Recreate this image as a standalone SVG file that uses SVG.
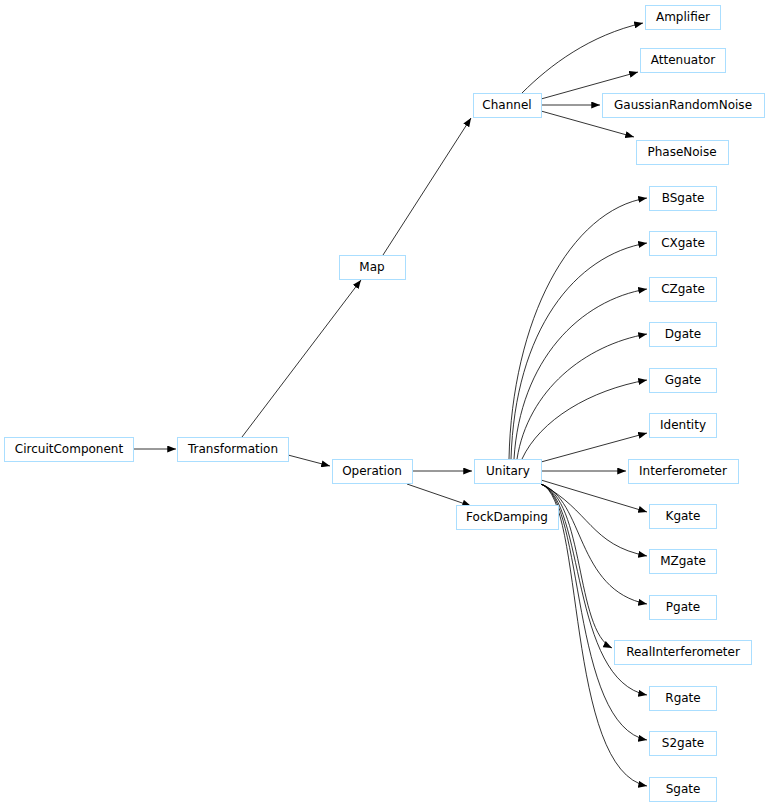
<svg xmlns="http://www.w3.org/2000/svg" width="768" height="807" viewBox="0 0 768 807">
<defs>
<style>
.n rect{fill:#fff;stroke:#aadeff;stroke-width:1}
.n text{font-family:"DejaVu Sans",sans-serif;font-size:12px;text-anchor:middle;fill:#000}
.e path{fill:none;stroke:#000;stroke-width:0.8;marker-end:url(#a)}
</style>
<marker id="a" viewBox="0 0 10 8" refX="10" refY="4" markerWidth="9" markerHeight="7" orient="auto" markerUnits="userSpaceOnUse"><path d="M0,0L10,4L0,8z" fill="#000"/></marker>
</defs>
<rect width="768" height="807" fill="#fff"/>
<g id="edges" class="e">
<path d="M133,449H176"/>
<path d="M242,437L361,280"/>
<path d="M288,455L330,466"/>
<path d="M383,255L471,118"/>
<path d="M412,471H472"/>
<path d="M407,484L471,506"/>
<path d="M522,93C550,65 590,35 643,23"/>
<path d="M541,99L638,72"/>
<path d="M541,105H600"/>
<path d="M541,111L634,137"/>
<path d="M509,459C512,320 570,210 647,198"/>
<path d="M511,459C515,330 575,255 647,243"/>
<path d="M514,459C520,360 580,300 647,289"/>
<path d="M517,459C528,390 585,345 647,334"/>
<path d="M522,459C540,420 590,390 647,380"/>
<path d="M541,462L647,433"/>
<path d="M541,471H626"/>
<path d="M541,480L647,512"/>
<path d="M541,484C590,510 590,545 647,556"/>
<path d="M541,484C585,500 575,590 647,604"/>
<path d="M541,484C585,500 575,630 612,648"/>
<path d="M541,484C585,500 570,680 647,695"/>
<path d="M541,484C585,500 570,725 647,740"/>
<path d="M541,484C585,500 565,770 647,786"/>
</g>
<g id="CircuitComponent" class="n"><rect x="4.5" y="437.5" width="129" height="24"/><text x="69" y="453">CircuitComponent</text></g>
<g id="Transformation" class="n"><rect x="177.5" y="437.5" width="111" height="24"/><text x="233" y="453">Transformation</text></g>
<g id="Map" class="n"><rect x="339.5" y="255.5" width="66" height="24"/><text x="372" y="271">Map</text></g>
<g id="Operation" class="n"><rect x="332.5" y="459.5" width="80" height="24"/><text x="372" y="475">Operation</text></g>
<g id="Channel" class="n"><rect x="473.5" y="93.5" width="68" height="24"/><text x="507" y="109">Channel</text></g>
<g id="Unitary" class="n"><rect x="474.5" y="459.5" width="67" height="24"/><text x="508" y="475">Unitary</text></g>
<g id="FockDamping" class="n"><rect x="456.5" y="505.5" width="102" height="24"/><text x="507" y="521">FockDamping</text></g>
<g id="Amplifier" class="n"><rect x="645.5" y="5.5" width="75" height="24"/><text x="683" y="21">Amplifier</text></g>
<g id="Attenuator" class="n"><rect x="640.5" y="48.5" width="85" height="24"/><text x="683" y="64">Attenuator</text></g>
<g id="GaussianRandomNoise" class="n"><rect x="602.5" y="93.5" width="162" height="24"/><text x="683" y="109">GaussianRandomNoise</text></g>
<g id="PhaseNoise" class="n"><rect x="636.5" y="140.5" width="92" height="24"/><text x="682" y="156">PhaseNoise</text></g>
<g id="BSgate" class="n"><rect x="649.5" y="186.5" width="67" height="24"/><text x="683" y="202">BSgate</text></g>
<g id="CXgate" class="n"><rect x="649.5" y="231.5" width="67" height="24"/><text x="683" y="247">CXgate</text></g>
<g id="CZgate" class="n"><rect x="649.5" y="277.5" width="67" height="24"/><text x="683" y="293">CZgate</text></g>
<g id="Dgate" class="n"><rect x="649.5" y="322.5" width="67" height="24"/><text x="683" y="338">Dgate</text></g>
<g id="Ggate" class="n"><rect x="649.5" y="368.5" width="67" height="24"/><text x="683" y="384">Ggate</text></g>
<g id="Identity" class="n"><rect x="649.5" y="413.5" width="67" height="24"/><text x="683" y="429">Identity</text></g>
<g id="Interferometer" class="n"><rect x="628.5" y="459.5" width="110" height="24"/><text x="683" y="475">Interferometer</text></g>
<g id="Kgate" class="n"><rect x="649.5" y="504.5" width="67" height="24"/><text x="683" y="520">Kgate</text></g>
<g id="MZgate" class="n"><rect x="649.5" y="549.5" width="67" height="24"/><text x="683" y="565">MZgate</text></g>
<g id="Pgate" class="n"><rect x="649.5" y="595.5" width="67" height="24"/><text x="683" y="611">Pgate</text></g>
<g id="RealInterferometer" class="n"><rect x="614.5" y="640.5" width="137" height="24"/><text x="683" y="656">RealInterferometer</text></g>
<g id="Rgate" class="n"><rect x="649.5" y="686.5" width="67" height="24"/><text x="683" y="702">Rgate</text></g>
<g id="S2gate" class="n"><rect x="649.5" y="731.5" width="67" height="24"/><text x="683" y="747">S2gate</text></g>
<g id="Sgate" class="n"><rect x="649.5" y="777.5" width="67" height="24"/><text x="683" y="793">Sgate</text></g>
</svg>
